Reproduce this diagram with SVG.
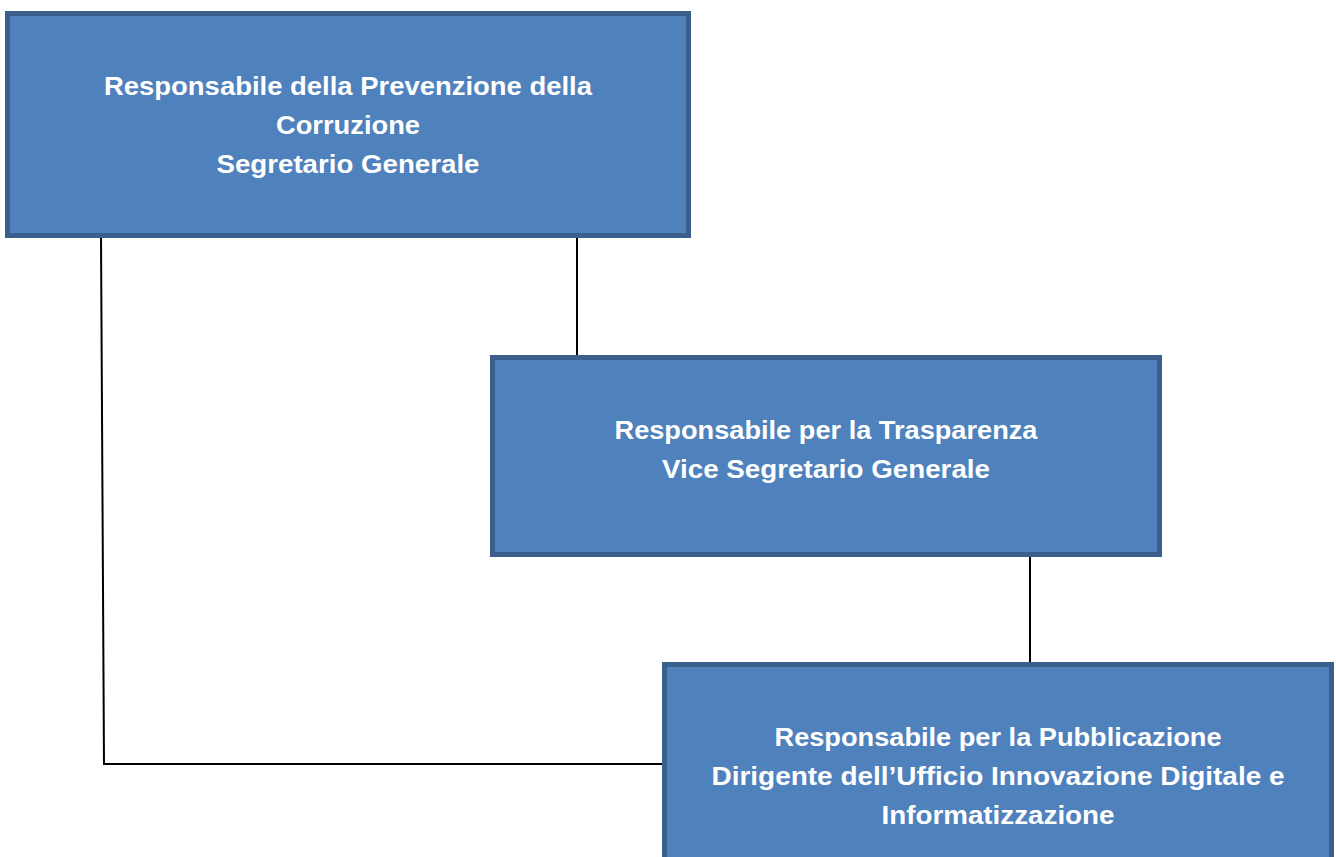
<svg xmlns="http://www.w3.org/2000/svg" width="1336" height="857" viewBox="0 0 1336 857">
<style>
.box{fill:#4f81bd;stroke:#3a5f8d;stroke-width:5}
.t{font-family:"Liberation Sans",Arial,sans-serif;font-weight:bold;font-size:25px;fill:#ffffff;text-anchor:middle}
.c{stroke:#000;stroke-width:2;fill:none}
</style>
<rect width="1336" height="857" fill="#ffffff"/>
<g id="connectors">
<polyline class="c" points="101,237 104,764 662,764"/>
<line class="c" x1="577" y1="237" x2="577" y2="355"/>
<line class="c" x1="1030" y1="557" x2="1030" y2="662"/>
</g>
<g id="node1">
<rect class="box" x="7.5" y="13.5" width="681" height="222"/>
<text class="t" x="348" y="95" textLength="488" lengthAdjust="spacingAndGlyphs">Responsabile della Prevenzione della</text>
<text class="t" x="348" y="134" textLength="144" lengthAdjust="spacingAndGlyphs">Corruzione</text>
<text class="t" x="348" y="173" textLength="263" lengthAdjust="spacingAndGlyphs">Segretario Generale</text>
</g>
<g id="node2">
<rect class="box" x="492.5" y="357.5" width="667" height="197"/>
<text class="t" x="826" y="439" textLength="423" lengthAdjust="spacingAndGlyphs">Responsabile per la Trasparenza</text>
<text class="t" x="826" y="478" textLength="328" lengthAdjust="spacingAndGlyphs">Vice Segretario Generale</text>
</g>
<g id="node3">
<rect class="box" x="664.5" y="664.5" width="667" height="220"/>
<text class="t" x="998" y="746" textLength="447" lengthAdjust="spacingAndGlyphs">Responsabile per la Pubblicazione</text>
<text class="t" x="998" y="785" textLength="573" lengthAdjust="spacingAndGlyphs">Dirigente dell’Ufficio Innovazione Digitale e</text>
<text class="t" x="998" y="824" textLength="233" lengthAdjust="spacingAndGlyphs">Informatizzazione</text>
</g>
</svg>
